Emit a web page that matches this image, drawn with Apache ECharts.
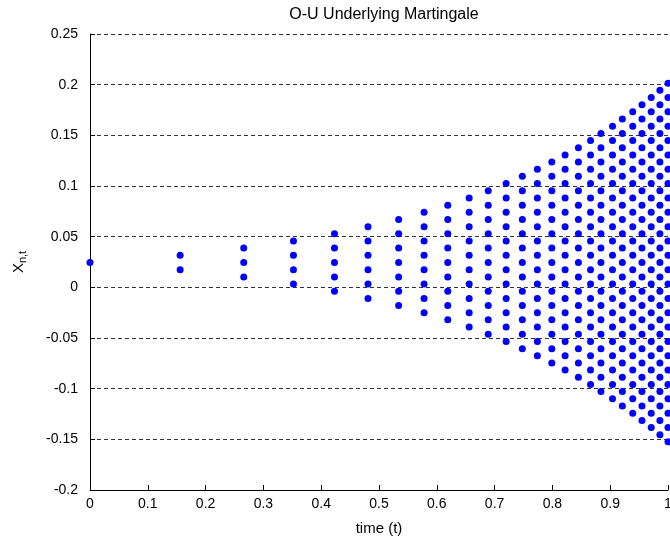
<!DOCTYPE html>
<html>
<head>
<meta charset="utf-8">
<title>O-U Underlying Martingale</title>
<script src="https://cdn.jsdelivr.net/npm/echarts@6/dist/echarts.min.js"></script>
<style>
  html, body { margin: 0; padding: 0; background: #fff; }
  #chart { width: 670px; height: 544px; }
</style>
</head>
<body>
<div id="chart"></div>
<script>
// Time grid of the lattice (one entry per step)
const times = [0, 0.156, 0.266, 0.352, 0.423, 0.481, 0.534, 0.578, 0.619, 0.656,
  0.689, 0.720, 0.748, 0.774, 0.799, 0.822, 0.845, 0.866, 0.884, 0.904,
  0.921, 0.939, 0.955, 0.971, 0.986, 1.0];

// Node values X_{n,t} at each time step, top to bottom
const nodeValues = [
  [0.0245],
  [0.0316, 0.0174],
  [0.0387, 0.0245, 0.0103],
  [0.0457, 0.0316, 0.0174, 0.0033],
  [0.0528, 0.0387, 0.0245, 0.0103, -0.0038],
  [0.0599, 0.0457, 0.0316, 0.0174, 0.0033, -0.0109],
  [0.0670, 0.0528, 0.0387, 0.0245, 0.0103, -0.0038, -0.0180],
  [0.0741, 0.0599, 0.0457, 0.0316, 0.0174, 0.0033, -0.0109, -0.0251],
  [0.0811, 0.0670, 0.0528, 0.0387, 0.0245, 0.0103, -0.0038, -0.0180, -0.0321],
  [0.0882, 0.0741, 0.0599, 0.0457, 0.0316, 0.0174, 0.0033, -0.0109, -0.0251, -0.0392],
  [0.0953, 0.0811, 0.0670, 0.0528, 0.0387, 0.0245, 0.0103, -0.0038, -0.0180, -0.0321, -0.0463],
  [0.1024, 0.0882, 0.0741, 0.0599, 0.0457, 0.0316, 0.0174, 0.0033, -0.0109, -0.0251, -0.0392, -0.0534],
  [0.1095, 0.0953, 0.0811, 0.0670, 0.0528, 0.0387, 0.0245, 0.0103, -0.0038, -0.0180, -0.0321, -0.0463, -0.0605],
  [0.1165, 0.1024, 0.0882, 0.0741, 0.0599, 0.0457, 0.0316, 0.0174, 0.0033, -0.0109, -0.0251, -0.0392, -0.0534, -0.0675],
  [0.1236, 0.1095, 0.0953, 0.0811, 0.0670, 0.0528, 0.0387, 0.0245, 0.0103, -0.0038, -0.0180, -0.0321, -0.0463, -0.0605, -0.0746],
  [0.1307, 0.1165, 0.1024, 0.0882, 0.0741, 0.0599, 0.0457, 0.0316, 0.0174, 0.0033, -0.0109, -0.0251, -0.0392, -0.0534, -0.0675, -0.0817],
  [0.1378, 0.1236, 0.1095, 0.0953, 0.0811, 0.0670, 0.0528, 0.0387, 0.0245, 0.0103, -0.0038, -0.0180, -0.0321, -0.0463, -0.0605, -0.0746, -0.0888],
  [0.1449, 0.1307, 0.1165, 0.1024, 0.0882, 0.0741, 0.0599, 0.0457, 0.0316, 0.0174, 0.0033, -0.0109, -0.0251, -0.0392, -0.0534, -0.0675, -0.0817, -0.0959],
  [0.1519, 0.1378, 0.1236, 0.1095, 0.0953, 0.0811, 0.0670, 0.0528, 0.0387, 0.0245, 0.0103, -0.0038, -0.0180, -0.0321, -0.0463, -0.0605, -0.0746, -0.0888, -0.1029],
  [0.1590, 0.1449, 0.1307, 0.1165, 0.1024, 0.0882, 0.0741, 0.0599, 0.0457, 0.0316, 0.0174, 0.0033, -0.0109, -0.0251, -0.0392, -0.0534, -0.0675, -0.0817, -0.0959, -0.1100],
  [0.1661, 0.1519, 0.1378, 0.1236, 0.1095, 0.0953, 0.0811, 0.0670, 0.0528, 0.0387, 0.0245, 0.0103, -0.0038, -0.0180, -0.0321, -0.0463, -0.0605, -0.0746, -0.0888, -0.1029, -0.1171],
  [0.1732, 0.1590, 0.1449, 0.1307, 0.1165, 0.1024, 0.0882, 0.0741, 0.0599, 0.0457, 0.0316, 0.0174, 0.0033, -0.0109, -0.0251, -0.0392, -0.0534, -0.0675, -0.0817, -0.0959, -0.1100, -0.1242],
  [0.1803, 0.1661, 0.1519, 0.1378, 0.1236, 0.1095, 0.0953, 0.0811, 0.0670, 0.0528, 0.0387, 0.0245, 0.0103, -0.0038, -0.0180, -0.0321, -0.0463, -0.0605, -0.0746, -0.0888, -0.1029, -0.1171, -0.1313],
  [0.1873, 0.1732, 0.1590, 0.1449, 0.1307, 0.1165, 0.1024, 0.0882, 0.0741, 0.0599, 0.0457, 0.0316, 0.0174, 0.0033, -0.0109, -0.0251, -0.0392, -0.0534, -0.0675, -0.0817, -0.0959, -0.1100, -0.1242, -0.1383],
  [0.1944, 0.1803, 0.1661, 0.1519, 0.1378, 0.1236, 0.1095, 0.0953, 0.0811, 0.0670, 0.0528, 0.0387, 0.0245, 0.0103, -0.0038, -0.0180, -0.0321, -0.0463, -0.0605, -0.0746, -0.0888, -0.1029, -0.1171, -0.1313, -0.1454],
  [0.2015, 0.1873, 0.1732, 0.1590, 0.1449, 0.1307, 0.1165, 0.1024, 0.0882, 0.0741, 0.0599, 0.0457, 0.0316, 0.0174, 0.0033, -0.0109, -0.0251, -0.0392, -0.0534, -0.0675, -0.0817, -0.0959, -0.1100, -0.1242, -0.1383, -0.1525]
];

// Axis ranges and tick spacing
const xRange = [0, 1];
const xStep = 0.1;
const yRange = [-0.2, 0.25];
const yStep = 0.05;

const titleText = 'O-U Underlying Martingale';
const xName = 'time (t)';

// Flatten the lattice into [t, x] pairs
const points = [];
nodeValues.forEach(function (col, i) {
  col.forEach(function (v) { points.push([times[i], v]); });
});

const font = '"Liberation Sans", Arial, sans-serif';
const chart = echarts.init(document.getElementById('chart'), null, { renderer: 'canvas' });

chart.setOption({
  animation: false,
  backgroundColor: '#ffffff',
  title: {
    text: titleText,
    left: 379,
    textAlign: 'center',
    top: 2,
    textStyle: { fontFamily: font, fontSize: 16, fontWeight: 'normal', color: '#000' }
  },
  grid: { left: 90, right: 2, top: 34, bottom: 54, containLabel: false, outerBoundsMode: 'none' },
  xAxis: {
    type: 'value',
    min: xRange[0],
    max: xRange[1],
    interval: xStep,
    name: xName,
    nameLocation: 'middle',
    nameGap: 31,
    nameTextStyle: { fontFamily: font, fontSize: 15, color: '#000' },
    axisLine: { onZero: false, lineStyle: { color: '#000', width: 1 } },
    axisTick: { inside: true, length: 5, lineStyle: { color: '#000' } },
    axisLabel: {
      margin: 7, fontFamily: font, fontSize: 14, color: '#000',
      formatter: function (v) { return String(Math.round(v * 10) / 10); }
    },
    splitLine: { show: false }
  },
  yAxis: {
    type: 'value',
    min: yRange[0],
    max: yRange[1],
    interval: yStep,
    name: '{x|X}{s|n,t}',
    nameLocation: 'middle',
    nameRotate: 90,
    nameGap: 62,
    nameTextStyle: {
      rich: {
        x: { fontFamily: font, fontSize: 15, color: '#000' },
        s: { fontFamily: font, fontSize: 11, color: '#000', padding: [8, 0, 0, 0] }
      }
    },
    axisLine: { onZero: false, lineStyle: { color: '#000', width: 1 } },
    axisTick: { inside: true, length: 5, lineStyle: { color: '#000' } },
    axisLabel: {
      margin: 12, fontFamily: font, fontSize: 14, color: '#000',
      formatter: function (v) { return String(Math.round(v * 100) / 100); }
    },
    splitLine: { show: true, lineStyle: { color: '#333', type: [4, 3], width: 1 } }
  },
  series: [{
    type: 'scatter',
    data: points,
    symbol: 'circle',
    symbolSize: 7,
    clip: false,
    itemStyle: { color: '#0000ff', opacity: 1 }
  }]
});
</script>
</body>
</html>
